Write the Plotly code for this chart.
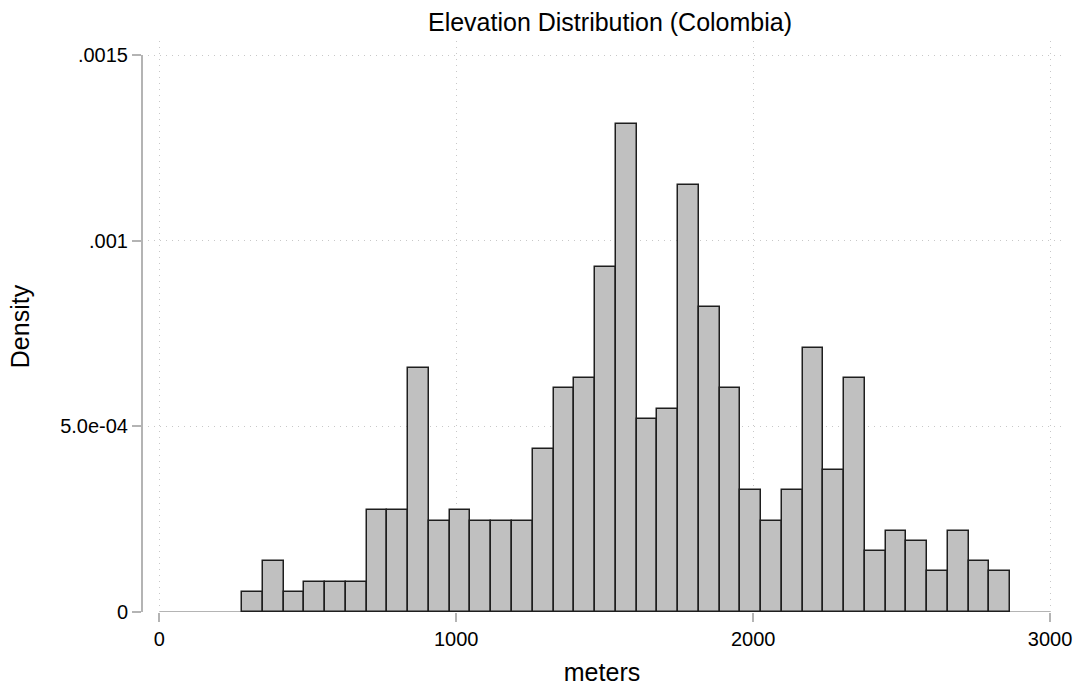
import plotly.graph_objects as go

# Histogram data (density per bin)
bin_start = 279.0      # left edge of first bin (meters)
bin_width = 69.9       # bin width (meters)
density = [5.47e-5, 1.368e-4, 5.47e-5, 8.21e-5, 8.21e-5, 8.21e-5, 2.736e-4, 2.736e-4,
           6.566e-4, 2.462e-4, 2.736e-4, 2.462e-4, 2.462e-4, 2.462e-4, 4.378e-4, 6.019e-4,
           6.293e-4, 9.302e-4, 1.3133e-3, 5.198e-4, 5.472e-4, 1.1491e-3, 8.208e-4, 6.019e-4,
           3.283e-4, 2.462e-4, 3.283e-4, 7.114e-4, 3.830e-4, 6.293e-4, 1.642e-4, 2.189e-4,
           1.915e-4, 1.094e-4, 2.189e-4, 1.368e-4, 1.094e-4]

x_tickvals = [0, 1000, 2000, 3000]
x_ticktext = ["0", "1000", "2000", "3000"]
y_tickvals = [0, 0.0005, 0.001, 0.0015]
y_ticktext = ["0", "5.0e-04", ".001", ".0015"]

centers = [bin_start + bin_width * (i + 0.5) for i in range(len(density))]

FONT = "Liberation Sans, Arial, Helvetica, sans-serif"
AXIS_GRAY = "#b4b4b4"
GRID_GRAY = "#c8c8c8"

fig = go.Figure()
fig.add_trace(go.Bar(
    x=centers, y=density, width=[bin_width] * len(density),
    marker=dict(color="#c0c0c0", line=dict(color="#1e1e1e", width=1.5)),
    showlegend=False, hoverinfo="x+y",
))

fig.update_layout(
    width=1078, height=686, autosize=False,
    margin=dict(l=142, r=16, t=41, b=74, autoexpand=False),
    paper_bgcolor="white", plot_bgcolor="white",
    font=dict(family=FONT, color="black", size=20),
    bargap=0,
    title=dict(text="Elevation Distribution (Colombia)", font=dict(size=25, color="black"),
               xref="container", x=610 / 1078, xanchor="center",
               yref="container", y=1 - 13 / 686, yanchor="top"),
    xaxis=dict(range=[-58.3, 3040], tickvals=x_tickvals, ticktext=x_ticktext,
               showgrid=True, gridcolor=GRID_GRAY, griddash="1px,5px", gridwidth=1.2,
               zeroline=False, showline=False, automargin=False,
               ticks="outside", ticklen=9, tickwidth=1.5, tickcolor=AXIS_GRAY,
               tickfont=dict(size=20),
               title=dict(text="meters", font=dict(size=25), standoff=14)),
    yaxis=dict(range=[0, 0.0015377], tickvals=y_tickvals, ticktext=y_ticktext,
               showgrid=True, gridcolor=GRID_GRAY, griddash="1px,5px", gridwidth=1.2,
               zeroline=False, showline=False, automargin=False,
               ticks="outside", ticklen=9, tickwidth=1.5, tickcolor=AXIS_GRAY,
               tickfont=dict(size=20),
               title=dict(text="Density", font=dict(size=25), standoff=23)),
    shapes=[
        dict(type="line", xref="paper", yref="y", x0=0, x1=0, y0=0, y1=0.0015,
             line=dict(color=AXIS_GRAY, width=2), layer="above"),
        dict(type="line", xref="x", yref="y", x0=0, x1=3000, y0=0, y1=0,
             line=dict(color=AXIS_GRAY, width=2), layer="below"),
    ],
)

fig.write_html("out.html")
